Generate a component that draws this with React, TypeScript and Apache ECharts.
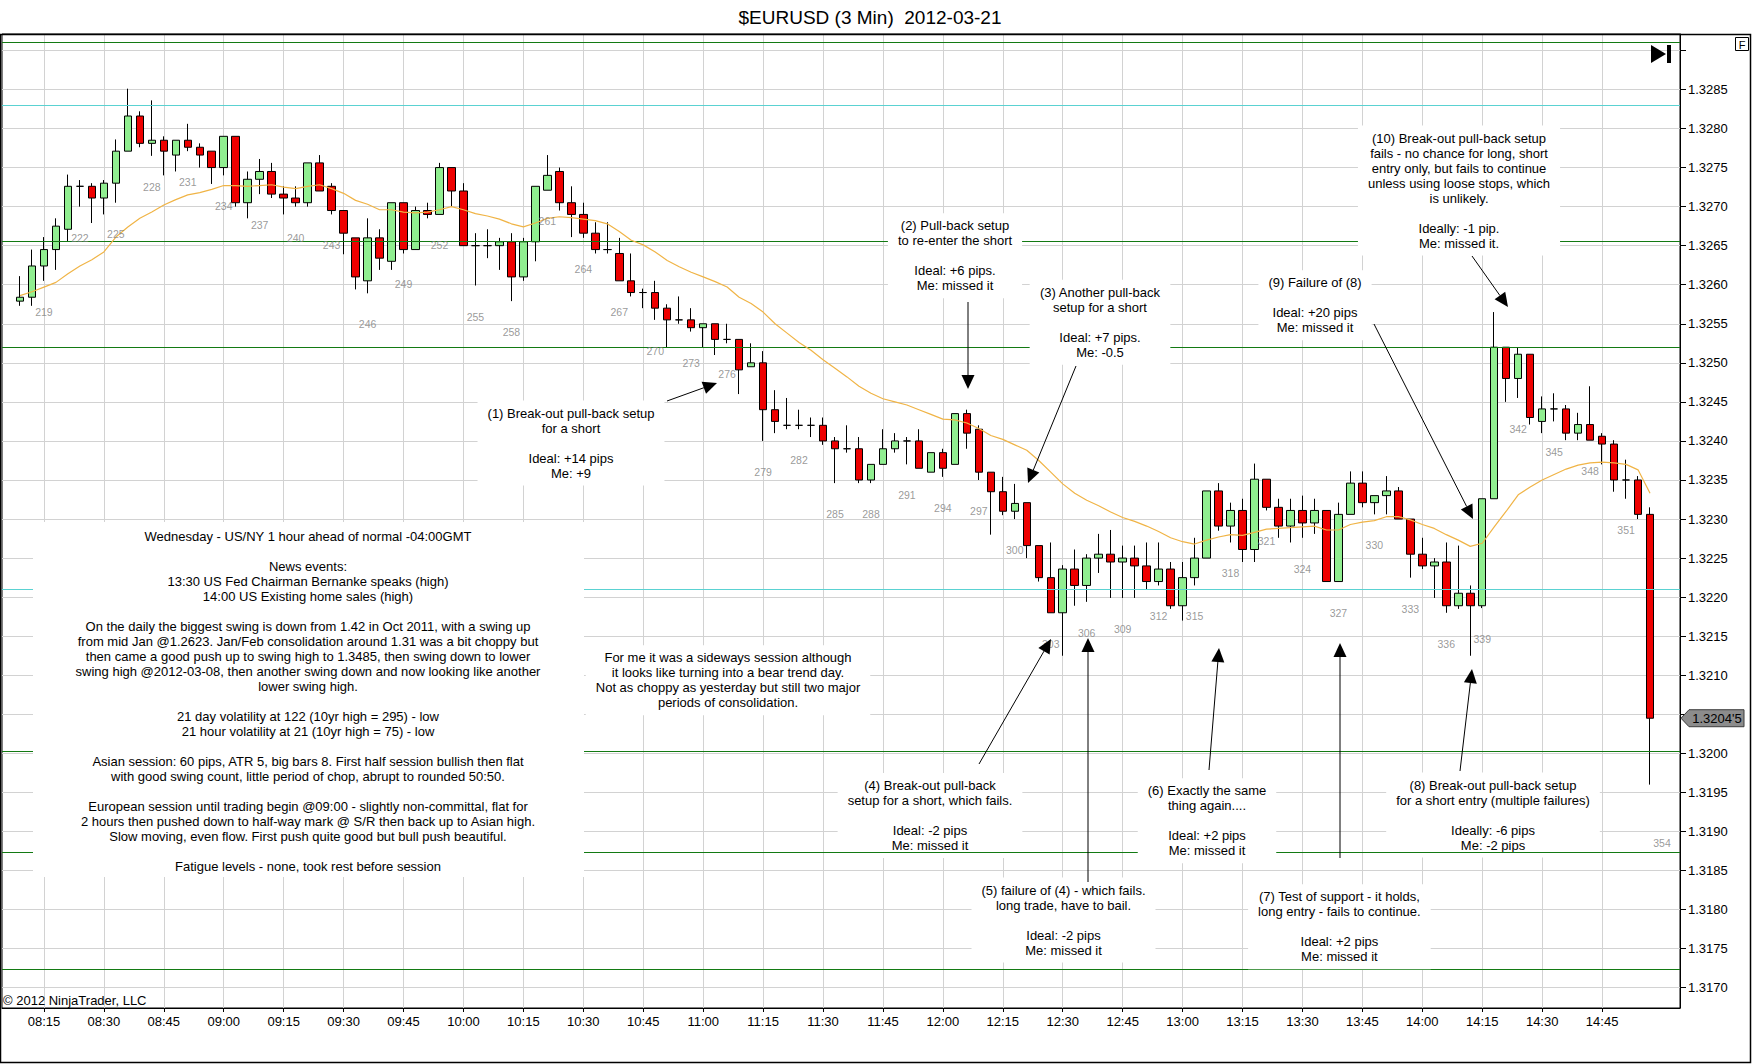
import React, { useEffect, useRef } from "react";
import * as echarts from "echarts";

// ---------------- DATA ----------------
// categories: 3-minute bars numbered 216..355 (bar 216 = 08:06)
const FIRST_BAR = 216;
const BAR_COUNT = 140;
const FIRST_BAR_MINUTE = 8 * 60 + 6;
const BAR_MINUTES = 3;
const FIRST_DATA_BAR = 217;

// OHLC for bars 217..353
const opens = [
  1.32579, 1.32584, 1.32624, 1.32645, 1.32671, 1.32726, 1.32726, 1.32711, 1.3273, 1.32771,
  1.32816, 1.32781, 1.32785, 1.32766, 1.32785, 1.32776, 1.32771, 1.3275, 1.3279, 1.32705,
  1.32735, 1.32745, 1.32716, 1.32711, 1.32705, 1.32756, 1.32726, 1.32695, 1.3266, 1.32605,
  1.3266, 1.3263, 1.32705, 1.32645, 1.32695, 1.3269, 1.3275, 1.3272, 1.3265, 1.3265,
  1.3265, 1.32655, 1.3261, 1.32655, 1.32721, 1.32745, 1.32705, 1.3269, 1.32666, 1.32645,
  1.3264, 1.32605, 1.3259, 1.3259, 1.3257, 1.32555, 1.32555, 1.32545, 1.3255, 1.3253,
  1.3253, 1.32495, 1.325, 1.3244, 1.3242, 1.3242, 1.3242, 1.3242, 1.324, 1.3239,
  1.3239, 1.3235, 1.3237, 1.3239, 1.324, 1.324, 1.3236, 1.32385, 1.3237, 1.32435,
  1.32415, 1.3236, 1.32335, 1.3231, 1.32321, 1.32266, 1.32225, 1.3218, 1.32236, 1.32215,
  1.3225, 1.32255, 1.32245, 1.3225, 1.3224, 1.3222, 1.32236, 1.32189, 1.32225, 1.3225,
  1.32336, 1.32291, 1.32311, 1.32261, 1.32351, 1.32315, 1.32291, 1.32311, 1.32295, 1.32311,
  1.3222, 1.32306, 1.32346, 1.32321, 1.3233, 1.32336, 1.323, 1.32255, 1.3224, 1.32245,
  1.32189, 1.32205, 1.32189, 1.32326, 1.3252, 1.3248, 1.32511, 1.32425, 1.32441, 1.32441,
  1.3241, 1.32421, 1.32406, 1.32396, 1.3235, 1.3235, 1.32306,
];
const highs = [
  1.32611, 1.32645, 1.32661, 1.32685, 1.32741, 1.32734, 1.3273, 1.32734, 1.32786, 1.32851,
  1.32822, 1.32836, 1.3279, 1.32785, 1.32806, 1.32781, 1.32771, 1.3279, 1.3279, 1.32745,
  1.32761, 1.32756, 1.32726, 1.32726, 1.32756, 1.32766, 1.3273, 1.32695, 1.3266, 1.32685,
  1.32671, 1.32705, 1.32705, 1.327, 1.32705, 1.32756, 1.3275, 1.3273, 1.32666, 1.32671,
  1.3266, 1.32666, 1.3266, 1.32726, 1.32766, 1.3275, 1.32726, 1.32705, 1.3268, 1.3268,
  1.3266, 1.3264, 1.32595, 1.32605, 1.32575, 1.32585, 1.3257, 1.3255, 1.3255, 1.3255,
  1.3253, 1.32525, 1.32515, 1.32465, 1.32455, 1.3244, 1.3243, 1.3243, 1.32405, 1.3242,
  1.32405, 1.3237, 1.32415, 1.3241, 1.32405, 1.32415, 1.32385, 1.3239, 1.32435, 1.3244,
  1.3242, 1.3236, 1.32354, 1.32345, 1.32321, 1.32266, 1.3227, 1.32241, 1.32261, 1.32255,
  1.32281, 1.32286, 1.32266, 1.32266, 1.3227, 1.3227, 1.32245, 1.32245, 1.32276, 1.32336,
  1.32346, 1.32321, 1.32326, 1.32371, 1.32351, 1.32326, 1.32326, 1.3233, 1.32326, 1.32311,
  1.32321, 1.32361, 1.32361, 1.3233, 1.32355, 1.32341, 1.323, 1.32276, 1.3225, 1.3227,
  1.32266, 1.32215, 1.32326, 1.32565, 1.3252, 1.3252, 1.32511, 1.32457, 1.32461, 1.32446,
  1.32436, 1.3247, 1.3241, 1.32401, 1.32376, 1.32355, 1.32315,
];
const lows = [
  1.32573, 1.32573, 1.32605, 1.32619, 1.32656, 1.327, 1.32679, 1.3269, 1.32705, 1.32771,
  1.32776, 1.32765, 1.3274, 1.32745, 1.32771, 1.3275, 1.32729, 1.3274, 1.327, 1.32685,
  1.32716, 1.32711, 1.3269, 1.327, 1.327, 1.3272, 1.3269, 1.32639, 1.32594, 1.32589,
  1.32619, 1.32619, 1.3264, 1.32645, 1.32685, 1.3269, 1.327, 1.3265, 1.32599, 1.32634,
  1.32619, 1.32579, 1.32605, 1.3263, 1.32721, 1.32695, 1.32661, 1.3266, 1.3264, 1.3264,
  1.32605, 1.32585, 1.3257, 1.32555, 1.3252, 1.3255, 1.3254, 1.3252, 1.3251, 1.32525,
  1.3246, 1.32495, 1.324, 1.3241, 1.32415, 1.32415, 1.32405, 1.32395, 1.32346, 1.32385,
  1.32346, 1.32346, 1.3237, 1.32385, 1.3237, 1.32365, 1.3236, 1.32354, 1.3237, 1.3239,
  1.3235, 1.3228, 1.32305, 1.323, 1.3225, 1.3222, 1.3218, 1.32125, 1.32189, 1.32194,
  1.32231, 1.32199, 1.32199, 1.32199, 1.3221, 1.32215, 1.32185, 1.3217, 1.32215, 1.3225,
  1.32285, 1.3227, 1.32245, 1.32245, 1.32311, 1.32276, 1.3227, 1.32276, 1.32281, 1.3222,
  1.3222, 1.32306, 1.32315, 1.32306, 1.32306, 1.323, 1.32225, 1.32236, 1.32199, 1.3218,
  1.32185, 1.32125, 1.32186, 1.32326, 1.3245, 1.32455, 1.32421, 1.3241, 1.32425, 1.32401,
  1.32401, 1.32401, 1.3237, 1.32335, 1.32326, 1.323, 1.3196,
];
const closes = [
  1.32584, 1.32624, 1.32645, 1.32675, 1.32726, 1.32726, 1.32711, 1.3273, 1.32771, 1.32816,
  1.32781, 1.32785, 1.32771, 1.32785, 1.32776, 1.32766, 1.3275, 1.3279, 1.32705, 1.32735,
  1.32745, 1.32716, 1.32711, 1.32705, 1.32756, 1.3272, 1.32695, 1.32666, 1.3261, 1.3266,
  1.32634, 1.32705, 1.32645, 1.32695, 1.3269, 1.3275, 1.3272, 1.3265, 1.3265, 1.3265,
  1.32655, 1.3261, 1.32655, 1.32726, 1.3274, 1.32705, 1.3269, 1.32666, 1.32645, 1.32645,
  1.32605, 1.3259, 1.3259, 1.3257, 1.32555, 1.32555, 1.32545, 1.3255, 1.3253, 1.3253,
  1.32491, 1.325, 1.3244, 1.32425, 1.3242, 1.3242, 1.3242, 1.324, 1.3239, 1.3239,
  1.3235, 1.3237, 1.3239, 1.324, 1.324, 1.32365, 1.32385, 1.32365, 1.32435, 1.3241,
  1.3236, 1.32335, 1.3231, 1.3232, 1.32266, 1.32225, 1.3218, 1.32236, 1.32215, 1.3225,
  1.32255, 1.32245, 1.3225, 1.3224, 1.3222, 1.32236, 1.32189, 1.32225, 1.3225, 1.32336,
  1.32291, 1.32311, 1.32261, 1.32351, 1.32315, 1.32291, 1.32311, 1.32295, 1.32311, 1.3222,
  1.32306, 1.32346, 1.32321, 1.3233, 1.32336, 1.323, 1.32255, 1.3224, 1.32245, 1.32189,
  1.32205, 1.32189, 1.32326, 1.3252, 1.3248, 1.32511, 1.3243, 1.32441, 1.32441, 1.3241,
  1.32421, 1.32401, 1.32396, 1.3235, 1.3235, 1.32306, 1.32045,
];
// moving average line (orange), bars 217..353
const movingAverage = [
  1.32586, 1.32591, 1.32597, 1.32603, 1.32614, 1.32624, 1.32632, 1.32642, 1.32661, 1.32674,
  1.32685, 1.32693, 1.32702, 1.32709, 1.32715, 1.32718, 1.32722, 1.32727, 1.32727, 1.32726,
  1.32727, 1.32728, 1.32725, 1.32723, 1.32726, 1.32728, 1.32723, 1.32717, 1.32708, 1.32703,
  1.32696, 1.32696, 1.32693, 1.32692, 1.32693, 1.32696, 1.327, 1.32696, 1.32691, 1.32688,
  1.32684, 1.32678, 1.32674, 1.32679, 1.32685, 1.32687, 1.32686, 1.32684, 1.32682, 1.32678,
  1.32668, 1.32657, 1.32651, 1.32642, 1.32631, 1.32623, 1.32616, 1.3261, 1.32604, 1.32597,
  1.32584, 1.32576, 1.32565, 1.3255, 1.32538, 1.32526, 1.32516, 1.32504, 1.32493, 1.32482,
  1.3247, 1.32461, 1.32454, 1.3245, 1.32446, 1.3244, 1.32434, 1.32428, 1.32427, 1.32423,
  1.32416, 1.32407, 1.32402, 1.32395, 1.32388, 1.32375, 1.3236, 1.32345, 1.32333, 1.32324,
  1.32317, 1.32309, 1.32302, 1.32297, 1.32291, 1.32284, 1.32276, 1.32271, 1.32268, 1.32273,
  1.32277, 1.3228, 1.32279, 1.32283, 1.32287, 1.32288, 1.32289, 1.3229, 1.32291, 1.32286,
  1.32286, 1.32293, 1.32296, 1.32298, 1.32303, 1.32303, 1.32299, 1.32293, 1.32288, 1.3228,
  1.32273, 1.32265, 1.32269, 1.3229, 1.3231, 1.32331, 1.32341, 1.3235, 1.32357, 1.32364,
  1.32369, 1.32372, 1.32373, 1.32372, 1.3237, 1.32363, 1.32333,
];

const xTickLabels = [
  "08:15", "08:30", "08:45", "09:00", "09:15", "09:30", "09:45", "10:00", "10:15",
  "10:30", "10:45", "11:00", "11:15", "11:30", "11:45", "12:00", "12:15", "12:30",
  "12:45", "13:00", "13:15", "13:30", "13:45", "14:00", "14:15", "14:30", "14:45",
];
const yTicks = [
  1.317, 1.3175, 1.318, 1.3185, 1.319, 1.3195, 1.32, 1.3205, 1.321, 1.3215, 1.322, 1.3225,
  1.323, 1.3235, 1.324, 1.3245, 1.325, 1.3255, 1.326, 1.3265, 1.327, 1.3275, 1.328, 1.3285, 1.329,
];
const Y_MIN = 1.31674;
const Y_MAX = 1.32921;

// drawn horizontal levels
const greenLevels = [1.3291, 1.32656, 1.3252, 1.32003, 1.31723];
const greenLevelOnTop = 1.31873;
const cyanLevels = [1.3283, 1.3221];

// bar numbers printed under every third bar
const BAR_NUMBER_STEP = 3;
const FIRST_NUMBERED_BAR = 219;
const pendingBar = { bar: 354, anchor: 1.31925 };

// ---------------- LAYOUT / STYLE ----------------
const FONT = '"Liberation Sans", Arial, Helvetica, sans-serif';
const W = 1752;
const H = 1064;
const GRID = { left: 2, right: 72, top: 34, bottom: 56 };

const annotations = [
  { x: 571, y: 413, z: 5, lines: ["(1) Break-out pull-back setup", "for a short", "", "Ideal: +14 pips", "Me: +9"] },
  { x: 955, y: 225.7, z: 5, lines: ["(2) Pull-back setup", "to re-enter the short", "", "Ideal: +6 pips.", "Me: missed it"] },
  { x: 1100, y: 292.3, z: 5, lines: ["(3) Another pull-back", "setup for a short", "", "Ideal: +7 pips.", "Me: -0.5"] },
  { x: 930, y: 785.6, z: 5, lines: ["(4) Break-out pull-back", "setup for a short, which fails.", "", "Ideal: -2 pips", "Me: missed it"] },
  { x: 1063.5, y: 890, z: 5, lines: ["(5) failure of (4) - which fails.", "long trade, have to bail.", "", "Ideal: -2 pips", "Me: missed it"] },
  { x: 1207, y: 790.7, z: 7, lines: ["(6) Exactly the same", "thing again....", "", "Ideal: +2 pips", "Me: missed it"] },
  { x: 1339.4, y: 896.7, z: 5, lines: ["(7) Test of support - it holds,", "long entry - fails to continue.", "", "Ideal: +2 pips", "Me: missed it"] },
  { x: 1493, y: 785, z: 5, lines: ["(8) Break-out pull-back setup", "for a short entry (multiple failures)", "", "Ideally: -6 pips", "Me: -2 pips"] },
  { x: 1315, y: 282.7, z: 5, lines: ["(9) Failure of (8)", "", "Ideal: +20 pips", "Me: missed it"] },
  {
    x: 1459, y: 138, z: 5,
    lines: [
      "(10) Break-out pull-back setup", "fails - no chance for long, short", "entry only, but fails to continue",
      "unless using loose stops, which", "is unlikely.", "", "Ideally: -1 pip.", "Me: missed it.",
    ],
  },
  {
    x: 728, y: 657.7, z: 5,
    lines: [
      "For me it was a sideways session although", "it looks like turning into a bear trend day.",
      "Not as choppy as yesterday but still two major", "periods of consolidation.",
    ],
  },
];

const notesLines = [
  "Wednesday - US/NY 1 hour ahead of normal -04:00GMT",
  "",
  "News events:",
  "13:30 US Fed Chairman Bernanke speaks (high)",
  "14:00 US Existing home sales (high)",
  "",
  "On the daily the biggest swing is down from 1.42 in Oct 2011, with a swing up",
  "from mid Jan @1.2623. Jan/Feb consolidation around 1.31 was a bit choppy but",
  "then came a good push up to swing high to 1.3485, then swing down to lower",
  "swing high @2012-03-08, then another swing down and now looking like another",
  "lower swing high.",
  "",
  "21 day volatility at 122 (10yr high = 295) - low",
  "21 hour volatility at 21 (10yr high = 75) - low",
  "",
  "Asian session: 60 pips, ATR 5, big bars 8. First half session bullish then flat",
  "with good swing count, little period of chop, abrupt to rounded 50:50.",
  "",
  "European session until trading begin @09:00 - slightly non-committal, flat for",
  "2 hours then pushed down to half-way mark @ S/R then back up to Asian high.",
  "Slow moving, even flow. First push quite good but bull push beautiful.",
  "",
  "Fatigue levels - none, took rest before session",
];

// arrows: tail x, tail y, tip x, tip y
const arrows = [
  [667, 401, 717, 383],
  [968, 302, 968, 389],
  [1076, 366, 1028, 483],
  [979, 764, 1051, 639],
  [1088, 882, 1088, 638],
  [1209, 770, 1219, 648],
  [1340, 858, 1340, 643],
  [1460, 771, 1472, 669],
  [1374, 324, 1473, 519],
  [1472, 256, 1508, 307],
];

function pad2(n: number) {
  return String(n).padStart(2, "0");
}

function buildGraphics(tagY: number, lastClose: number) {
  const els: any[] = [];
  // outer frame
  els.push({
    type: "rect", silent: true, z: 9,
    shape: { x: 0.5, y: 34.5, width: W - 2, height: H - 36 },
    style: { fill: "none", stroke: "#000", lineWidth: 1.5 },
  });
  // title
  els.push({
    type: "text", silent: true, z: 9, x: 870, y: 17,
    style: { text: "$EURUSD (3 Min)  2012-03-21", fill: "#000", fontSize: 19, fontFamily: FONT, align: "center", verticalAlign: "middle" },
  });
  // copyright
  els.push({
    type: "text", silent: true, z: 9, x: 3, y: 1000,
    style: { text: "\u00A9 2012 NinjaTrader, LLC", fill: "#000", fontSize: 13, fontFamily: FONT, align: "left", verticalAlign: "middle" },
  });
  // F box
  els.push({
    type: "rect", silent: true, z: 9,
    shape: { x: 1735.5, y: 37.5, width: 13, height: 13 },
    style: { fill: "#fff", stroke: "#000", lineWidth: 1 },
  });
  els.push({
    type: "text", silent: true, z: 9, x: 1742, y: 44.5,
    style: { text: "F", fill: "#000", fontSize: 11, fontFamily: FONT, align: "center", verticalAlign: "middle" },
  });
  // go-to-end icon
  els.push({ type: "polygon", silent: true, z: 9, shape: { points: [[1651, 45], [1651, 63], [1666, 54]] }, style: { fill: "#000" } });
  els.push({ type: "rect", silent: true, z: 9, shape: { x: 1667, y: 45, width: 4, height: 18 }, style: { fill: "#000" } });

  // left notes block
  els.push({ type: "rect", silent: true, z: 7, shape: { x: 33, y: 522, width: 551, height: 355 }, style: { fill: "#fff" } });
  els.push({
    type: "text", silent: true, z: 8, x: 308, y: 536.7 - 7.5,
    style: { text: notesLines.join("\n"), fill: "#000", fontSize: 13, fontFamily: FONT, align: "center", verticalAlign: "top", lineHeight: 15 },
  });

  // annotation boxes
  const P = 5;
  annotations.forEach((a) => {
    els.push({
      type: "text", silent: true, z: a.z, x: a.x, y: a.y - 7.5 - P,
      style: {
        text: a.lines.join("\n"), fill: "#000", fontSize: 13, fontFamily: FONT,
        align: "center", verticalAlign: "top", lineHeight: 15,
        backgroundColor: "#fff", padding: [P, 10],
      },
    });
  });

  // arrows
  arrows.forEach(([x1, y1, x2, y2]) => {
    const dx = x2 - x1;
    const dy = y2 - y1;
    const len = Math.hypot(dx, dy);
    const ux = dx / len;
    const uy = dy / len;
    const hl = 14;
    const hw = 6.5;
    const bx = x2 - ux * hl;
    const by = y2 - uy * hl;
    const nx = -uy;
    const ny = ux;
    els.push({ type: "line", silent: true, z: 6, shape: { x1, y1, x2: bx, y2: by }, style: { stroke: "#000", lineWidth: 1 } });
    els.push({
      type: "polygon", silent: true, z: 6,
      shape: { points: [[x2, y2], [bx + nx * hw, by + ny * hw], [bx - nx * hw, by - ny * hw]] },
      style: { fill: "#000" },
    });
  });

  // last price tag
  const s = lastClose.toFixed(5);
  const tagText = `${s.slice(0, 6)}'${s.slice(6)}`;
  const ax = W - GRID.right;
  els.push({
    type: "polygon", silent: true, z: 9,
    shape: { points: [[ax + 1, tagY], [ax + 9, tagY - 8.5], [1744, tagY - 8.5], [1744, tagY + 8.5], [ax + 9, tagY + 8.5]] },
    style: { fill: "#8c8c8c", stroke: "#3c3c3c", lineWidth: 1 },
  });
  els.push({
    type: "text", silent: true, z: 10, x: 1717, y: tagY,
    style: { text: tagText, fill: "#000", fontSize: 13, fontFamily: FONT, align: "center", verticalAlign: "middle" },
  });
  return els;
}

export default function App() {
  const ref = useRef<HTMLDivElement>(null);

  useEffect(() => {
    const el = ref.current;
    if (!el) return;
    const chart = echarts.init(el, null, { renderer: "svg" });

    const categories = Array.from({ length: BAR_COUNT }, (_, k) => {
      const m = FIRST_BAR_MINUTE + k * BAR_MINUTES;
      return `${pad2(Math.floor(m / 60))}:${pad2(m % 60)}`;
    });
    const offset = FIRST_DATA_BAR - FIRST_BAR;
    const candleData = categories.map((_, k) => {
      const i = k - offset;
      if (i < 0 || i >= opens.length) return "-";
      return [opens[i], closes[i], lows[i], highs[i]];
    });
    const maData = categories.map((_, k) => {
      const i = k - offset;
      return i >= 0 && i < movingAverage.length ? movingAverage[i] : null;
    });
    const emptyData = categories.map(() => null);
    const lastClose = closes[closes.length - 1];

    // labels on the price axis; the one hidden behind the last-price tag is left out
    const yLabelValues = yTicks.filter((v) => v < 1.32875 && Math.abs(v - lastClose) > 0.0001);

    const barLabelData: any[] = [];
    for (let b = FIRST_NUMBERED_BAR; b - FIRST_DATA_BAR < lows.length; b += BAR_NUMBER_STEP) {
      barLabelData.push({ name: String(b), value: [b - FIRST_BAR, lows[b - FIRST_DATA_BAR]] });
    }
    barLabelData.push({ name: String(pendingBar.bar), value: [pendingBar.bar - FIRST_BAR, pendingBar.anchor] });

    const isTick = (_: number, value: string) => xTickLabels.includes(value);

    const levelLine = (v: number, color: string) => ({ yAxis: v, lineStyle: { color, width: 1, type: "solid" } });
    const GREEN = "#137a13";
    const CYAN = "#5ad2d2";
    const markBase = {
      silent: true,
      precision: 6,
      symbol: ["none", "none"],
      label: { show: false },
      emphasis: { disabled: true },
    };

    const option: any = {
      animation: false,
      backgroundColor: "#fff",
      grid: { ...GRID, show: true, borderColor: "#000", borderWidth: 1, backgroundColor: "#fff" },
      xAxis: {
        type: "category",
        data: categories,
        boundaryGap: true,
        axisLine: { show: true, lineStyle: { color: "#000" } },
        axisTick: { show: true, alignWithLabel: true, interval: isTick, length: 4, lineStyle: { color: "#000" } },
        axisLabel: { interval: isTick, color: "#000", fontSize: 13, fontFamily: FONT, margin: 7 },
        splitLine: { show: false },
      },
      yAxis: {
        type: "value",
        position: "right",
        min: Y_MIN,
        max: Y_MAX,
        scale: true,
        axisLine: { show: true, lineStyle: { color: "#000" } },
        axisTick: { show: true, length: 6, lineStyle: { color: "#000" }, customValues: yTicks },
        axisLabel: {
          show: true, customValues: yLabelValues, color: "#000", fontSize: 13, fontFamily: FONT, margin: 8,
          formatter: (v: number) => v.toFixed(4),
        },
        splitLine: { show: false },
      },
      series: [
        {
          name: "grid",
          type: "line",
          data: emptyData,
          silent: true,
          z: 1,
          markLine: {
            ...markBase,
            z: 1,
            lineStyle: { color: "#d2d2d2", width: 1, type: "solid" },
            data: [...yTicks.map((v) => ({ yAxis: v })), ...xTickLabels.map((t) => ({ xAxis: t }))],
          },
        },
        {
          name: "EURUSD",
          type: "candlestick",
          data: candleData,
          barWidth: 8,
          z: 2,
          silent: true,
          itemStyle: {
            color: "#90ee90",
            color0: "#ee0000",
            borderColor: "#000",
            borderColor0: "#000",
            borderWidth: 1,
          },
          markLine: {
            ...markBase,
            z: 2.5,
            data: [...greenLevels.map((v) => levelLine(v, GREEN)), ...cyanLevels.map((v) => levelLine(v, CYAN))],
          },
        },
        {
          name: "MA",
          type: "line",
          data: maData,
          symbol: "none",
          showSymbol: false,
          silent: true,
          z: 3,
          lineStyle: { color: "#f0b446", width: 1.2 },
        },
        {
          name: "bar numbers",
          type: "scatter",
          data: barLabelData,
          symbolSize: 0,
          silent: true,
          z: 4,
          itemStyle: { color: "transparent" },
          label: {
            show: true,
            position: "inside",
            offset: [0, 31],
            formatter: (p: any) => p.name,
            color: "#808080",
            fontSize: 10.5,
            fontFamily: FONT,
          },
        },
        {
          name: "level on top",
          type: "line",
          data: emptyData,
          silent: true,
          z: 6,
          markLine: {
            ...markBase,
            z: 6,
            data: [levelLine(greenLevelOnTop, GREEN)],
          },
        },
      ],
    };

    chart.setOption(option);
    const tagY = chart.convertToPixel({ yAxisIndex: 0 }, lastClose) as number;
    chart.setOption({ graphic: buildGraphics(tagY, lastClose) });

    return () => chart.dispose();
  }, []);

  return (
    <div
      ref={ref}
      style={{ position: "fixed", left: 0, top: 0, width: W, height: H, background: "#fff" }}
    />
  );
}
